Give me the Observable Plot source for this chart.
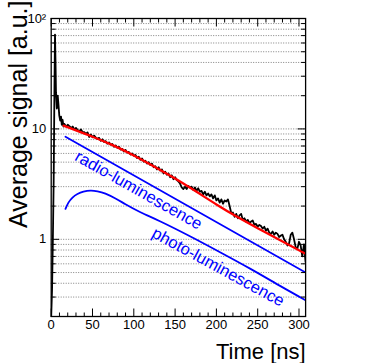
<!DOCTYPE html>
<html><head><meta charset="utf-8">
<script src="https://cdn.jsdelivr.net/npm/d3@7"></script>
<script src="https://cdn.jsdelivr.net/npm/@observablehq/plot@0.6"></script>
<style>html,body{margin:0;padding:0;background:#fff}#chart svg{display:block}</style>
</head><body><div id="chart"></div>
<script>
// ---- data ----
const blackTime = [0,1,2,3,4,4.6,5.2,5.8,6.8,7.9,8.8,9.8,10.9,11.9,12.8,13.8,14.9,
  16,18,20,22,24,26,28,30,32,34,36,38,40,42,44,46,48,50,52,54,56,58,60,62,64,66,68,70,72,74,76,78,80,
  82,84,86,88,90,92,94,96,98,100,102,104,106,108,110,112,114,116,118,120,122,124,126,128,130,132,134,136,138,140,
  142,144,146,148,150,152,154,156,158,160,162,164,166,168,170,172,174,176,178,180,182,184,186,188,190,192,194,196,198,200,
  202,204,206,208,210,212,214,216,218,220,222,224,226,228,230,232,234,236,238,240,242,244,246,248,250,252,254,256,258,260,
  262,264,266,268,270,272,274,276,278,280,282,284,286,288,290,292,294,296,298,300,302,304,306,308];
const blackSignal = [0.2,0.34,0.97,3.4,27,71.5,41.6,21.3,15.3,20,16.6,13.2,11.9,12.9,10.9,12.1,10.5,
  11.1,10.5,10.9,10.6,10.2,10.5,9.9,10.2,9.8,9.5,9.9,9.4,9.35,9.0,9.3,8.45,8.9,8.4,8.7,8.35,8.1,8.3,7.8,8.05,7.6,7.75,7.35,7.55,7.2,7.3,6.9,7.1,6.75,
  6.9,6.5,6.6,6.25,6.45,6.1,6.2,5.85,6.0,5.7,5.8,5.45,5.6,5.25,5.4,5.05,5.15,4.85,5.0,4.7,4.85,4.5,4.6,4.3,4.5,4.2,4.3,3.95,4.1,3.85,
  3.95,3.65,3.8,3.5,3.65,3.45,3.35,3.2,2.95,2.85,3.0,2.85,3.05,2.95,3.0,2.8,2.95,2.75,2.9,2.7,2.75,2.55,2.7,2.5,2.6,2.45,2.55,2.35,2.5,2.25,
  2.35,2.15,2.3,2.1,2.25,2.2,2.3,2.0,1.72,1.75,1.6,1.7,1.55,1.65,1.7,1.5,1.55,1.45,1.5,1.4,1.45,1.48,1.35,1.38,1.3,1.35,1.32,1.25,1.3,1.2,
  1.25,1.15,1.12,1.18,1.1,1.15,1.12,1.05,1.08,1.1,1.0,0.95,0.88,0.92,1.1,1.15,1.0,0.85,0.82,0.95,0.88,0.7,0.9,0.62];
const fitTime = [15,30,50,75,100,125,150,175,200,225,250,275,308];
const fitSignal = [10.7,9.7,8.5,7.1,5.75,4.55,3.55,2.72,2.07,1.6,1.26,1.0,0.74];
const radioTime = [17.3,308];
const radioSignal = [8.5,0.5];
const photoTime = [17.3,20.9,25.8,31.8,39.1,47.6,56.1,65.7,77.8,89.9,108.1,132.3,168.6,205,241.3,277.6,307.9];
const photoSignal = [1.89,2.15,2.39,2.57,2.70,2.76,2.72,2.59,2.34,2.08,1.76,1.45,1.06,0.76,0.54,0.377,0.281];
const labelNames = ["radio-luminescence","photo-luminescence"];
const labelTime = [27.2,120.5];
const labelSignal = [5.25,1.06];
const xMajorTicks = [0,50,100,150,200,250,300];
const xMinorTicks = [10,20,30,40,60,70,80,90,110,120,130,140,160,170,180,190,210,220,230,240,260,270,280,290];
const yMajorTicks = [1,10,100];
const yTickLabels = ["1","10","10²"];
const yMinorTicks = [0.2,0.3,0.4,0.5,0.6,0.7,0.8,0.9,2,3,4,5,6,7,8,9,20,30,40,50,60,70,80,90];
const xTitle = "Time [ns]";
const yTitle = "Average signal [a.u.]";

// ---- layout ----
const W = 382, H = 363, mL = 50.7, mR = 76.9, mT = 18, mB = 47;
const plotW = W - mL - mR, plotH = H - mT - mB;
const zip = (ts, vs) => ts.map((t, i) => ({t, v: vs[i]}));
const black = zip(blackTime, blackSignal);
const fit = zip(fitTime, fitSignal);
const radio = zip(radioTime, radioSignal);
const photo = zip(photoTime, photoSignal);
const BLUE = "#0000ff";
const FONT = "'Liberation Sans', Arial, Helvetica, sans-serif";

const chart = Plot.plot({
  width: W, height: H,
  marginLeft: mL, marginRight: mR, marginTop: mT, marginBottom: mB,
  style: {fontFamily: FONT, background: "white", color: "black", overflow: "visible"},
  x: {type: "linear", domain: [0, 308]},
  y: {type: "log", domain: [0.2, 100]},
  marks: [
    Plot.gridY([...yMinorTicks, ...yMajorTicks], {stroke: "#808080", strokeOpacity: 1, strokeWidth: 1, strokeDasharray: "1,1.5"}),
    Plot.line(photo, {x: "t", y: "v", stroke: BLUE, strokeWidth: 1.8, curve: "natural", clip: true}),
    Plot.line(radio, {x: "t", y: "v", stroke: BLUE, strokeWidth: 1.8, clip: true}),
    Plot.line(black, {x: "t", y: "v", stroke: "black", strokeWidth: 1.8, strokeLinejoin: "round", clip: true}),
    Plot.line(fit, {x: "t", y: "v", stroke: "#ff0000", strokeWidth: 2.3, curve: "natural", clip: true}),
    Plot.text([0], {x: () => labelTime[0], y: () => labelSignal[0], text: () => labelNames[0], rotate: 29.4,
      textAnchor: "start", lineAnchor: "bottom", fill: BLUE, fontSize: 16.5}),
    Plot.text([1], {x: () => labelTime[1], y: () => labelSignal[1], text: () => labelNames[1], rotate: 28.5,
      textAnchor: "start", lineAnchor: "bottom", fill: BLUE, fontSize: 16.5}),
    // inward ticks: bottom edge (top-anchored axis shifted down), top edge (bottom-anchored axis shifted up)
    Plot.axisX(xMajorTicks, {anchor: "top", tickSize: 8.5, dy: plotH, fill: "none", label: null}),
    Plot.axisX(xMinorTicks, {anchor: "top", tickSize: 4.5, dy: plotH, fill: "none", label: null}),
    Plot.axisX(xMajorTicks, {anchor: "bottom", tickSize: 8.5, dy: -plotH, fill: "none", label: null}),
    Plot.axisX(xMinorTicks, {anchor: "bottom", tickSize: 4.5, dy: -plotH, fill: "none", label: null}),
    Plot.axisY(yMajorTicks, {anchor: "right", tickSize: 7.5, dx: -plotW, fill: "none", label: null}),
    Plot.axisY(yMinorTicks, {anchor: "right", tickSize: 4, dx: -plotW, fill: "none", label: null}),
    Plot.axisY(yMajorTicks, {anchor: "left", tickSize: 7.5, dx: plotW, fill: "none", label: null}),
    Plot.axisY(yMinorTicks, {anchor: "left", tickSize: 4, dx: plotW, fill: "none", label: null}),
    // tick labels
    Plot.axisX(xMajorTicks, {anchor: "bottom", tickSize: 0, tickPadding: 3.3, fontSize: 13, label: null,
      tickFormat: d => String(d)}),
    Plot.axisY(yMajorTicks, {anchor: "left", tickSize: 0, tickPadding: 5, fontSize: 13, label: null,
      tickFormat: d => yTickLabels[yMajorTicks.indexOf(d)]}),
    Plot.frame({stroke: "black", strokeWidth: 1.3}),
    // axis titles
    Plot.text([xTitle], {frameAnchor: "bottom-right", text: d => d, textAnchor: "end", lineAnchor: "bottom",
      dy: 42, fontSize: 22}),
    Plot.text([yTitle], {frameAnchor: "top-left", text: d => d, textAnchor: "end", lineAnchor: "bottom",
      rotate: -90, dx: 26 - mL, dy: 0 - mT, fontSize: 25})
  ]
});
document.getElementById("chart").appendChild(chart);
</script>
</body></html>
